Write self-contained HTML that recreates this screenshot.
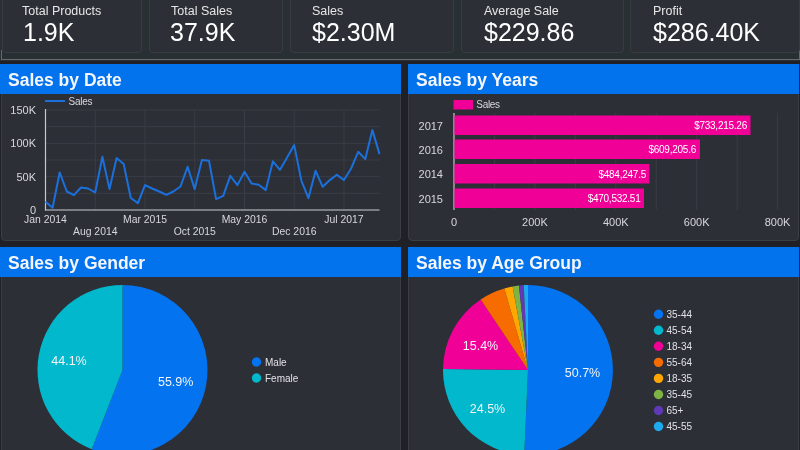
<!DOCTYPE html>
<html><head><meta charset="utf-8">
<style>
*{margin:0;padding:0;box-sizing:border-box}
html,body{width:800px;height:450px;overflow:hidden;background:#1f2126;font-family:"Liberation Sans",sans-serif;color:#fff}
.abs{position:absolute}
#root{position:absolute;left:0;top:0;width:800px;height:450px;will-change:transform}
#kpiwrap{position:absolute;left:0;top:-4px;width:800px;height:64px;background:#283034}
.kl{position:absolute;background:#656a6c}
.card{position:absolute;top:-4px;height:57px;background:#2d2f37;border:1px solid #393b43;border-radius:4px}
.lbl{position:absolute;left:19px;top:7px;font-size:12.5px;color:#e6e6e6;white-space:nowrap}
.val{position:absolute;left:19px;top:20px;font-size:25px;color:#fff;white-space:nowrap}
.panel{position:absolute;background:#2d2f37;border:1px solid #3a3d44;border-radius:4px}
.hdr{position:absolute;background:#0272ed;height:30px}
.ttl{position:absolute;font-weight:bold;font-size:17.5px;color:#f4f6fa;white-space:nowrap}
svg text{font-family:"Liberation Sans",sans-serif}
</style></head><body><div id="root">
<div id="kpiwrap"></div><div class="kl" style="left:1px;top:50px;width:1px;height:10px"></div><div class="kl" style="left:799px;top:50px;width:1px;height:10px"></div><div class="kl" style="left:1px;top:59px;width:799px;height:1px"></div><div class="abs" style="left:0;top:60px;width:800px;height:1px;background:#2a2d31"></div>
<div class="card" style="left:2px;width:140px"><div class="lbl" style="left:19px;top:7px">Total Products</div><div class="val" style="left:20px;top:21px">1.9K</div></div>
<div class="card" style="left:149px;width:134px"><div class="lbl" style="left:21px;top:7px">Total Sales</div><div class="val" style="left:20px;top:21px">37.9K</div></div>
<div class="card" style="left:290px;width:164px"><div class="lbl" style="left:21px;top:7px">Sales</div><div class="val" style="left:21px;top:21px">$2.30M</div></div>
<div class="card" style="left:461px;width:163px"><div class="lbl" style="left:22px;top:7px">Average Sale</div><div class="val" style="left:22px;top:21px">$229.86</div></div>
<div class="card" style="left:630px;width:170px"><div class="lbl" style="left:22px;top:7px">Profit</div><div class="val" style="left:22px;top:21px">$286.40K</div></div>

<!-- panels -->
<div class="panel" style="left:1px;top:64px;width:400px;height:177px"></div>
<div class="panel" style="left:408px;top:64px;width:391px;height:177px"></div>
<div class="panel" style="left:1px;top:247px;width:400px;height:210px"></div>
<div class="panel" style="left:408px;top:247px;width:391px;height:210px"></div>

<div class="hdr" style="left:0;top:64px;width:401px"></div>
<div class="hdr" style="left:408px;top:64px;width:391px"></div>
<div class="hdr" style="left:0;top:247px;width:401px"></div>
<div class="hdr" style="left:408px;top:247px;width:391px"></div>
<div class="ttl" style="left:8px;top:70px">Sales by Date</div>
<div class="ttl" style="left:416px;top:70px">Sales by Years</div>
<div class="ttl" style="left:8px;top:253px">Sales by Gender</div>
<div class="ttl" style="left:416px;top:253px">Sales by Age Group</div>

<svg class="abs" style="left:0;top:0" width="800" height="450" viewBox="0 0 800 450">
<g stroke="#3a3d45" stroke-width="1" fill="none"><line x1="45.5" y1="110.00" x2="379.5" y2="110.00"/><line x1="45.5" y1="126.67" x2="379.5" y2="126.67"/><line x1="45.5" y1="143.33" x2="379.5" y2="143.33"/><line x1="45.5" y1="160.00" x2="379.5" y2="160.00"/><line x1="45.5" y1="176.67" x2="379.5" y2="176.67"/><line x1="45.5" y1="193.34" x2="379.5" y2="193.34"/><line x1="45.5" y1="210.00" x2="379.5" y2="210.00"/><line x1="95.25" y1="110" x2="95.25" y2="210"/><line x1="145.00" y1="110" x2="145.00" y2="210"/><line x1="194.75" y1="110" x2="194.75" y2="210"/><line x1="244.50" y1="110" x2="244.50" y2="210"/><line x1="294.25" y1="110" x2="294.25" y2="210"/><line x1="344.00" y1="110" x2="344.00" y2="210"/><line x1="494.45" y1="113" x2="494.45" y2="210"/><line x1="534.90" y1="113" x2="534.90" y2="210"/><line x1="575.35" y1="113" x2="575.35" y2="210"/><line x1="615.80" y1="113" x2="615.80" y2="210"/><line x1="656.25" y1="113" x2="656.25" y2="210"/><line x1="696.70" y1="113" x2="696.70" y2="210"/><line x1="737.15" y1="113" x2="737.15" y2="210"/><line x1="777.60" y1="113" x2="777.60" y2="210"/></g>
<g stroke="#c4c7cc" stroke-width="1.2"><line x1="45.5" y1="109" x2="45.5" y2="210.5"/><line x1="45" y1="210" x2="379.5" y2="210"/><line x1="454" y1="113" x2="454" y2="210"/></g>
<polyline points="45.5,201.8 52.6,207.8 59.7,172.5 66.8,191.5 73.9,195.1 81.0,187.5 88.1,188.5 95.2,192.5 102.4,156.8 109.5,189.1 116.6,158.1 123.7,164.1 130.8,198.0 137.9,203.1 145.0,185.1 152.1,188.5 159.2,191.5 166.3,194.8 173.4,191.5 180.5,186.5 187.6,166.8 194.7,189.1 201.9,160.1 209.0,160.8 216.1,199.1 223.2,195.8 230.3,175.8 237.4,185.1 244.5,171.8 251.6,183.5 258.7,184.8 265.8,190.1 272.9,161.3 280.0,169.8 287.1,157.5 294.2,145.1 301.4,180.8 308.5,198.1 315.6,170.8 322.7,186.8 329.8,180.1 336.9,174.8 344.0,180.1 351.1,168.5 358.2,151.8 365.3,159.1 372.4,130.1 379.5,154.1" fill="none" stroke="#1a70dc" stroke-width="2" stroke-linejoin="round"/>
<line x1="45" y1="101" x2="65" y2="101" stroke="#1a70dc" stroke-width="2"/>
<g font-size="11" fill="#d6d8dc" text-anchor="end">
<text x="36" y="114">150K</text><text x="36" y="147.3">100K</text><text x="36" y="180.7">50K</text><text x="36" y="214">0</text>
</g>
<g font-size="10.4" fill="#d6d8dc" text-anchor="middle">
<text x="45.5" y="222.5">Jan 2014</text><text x="95.25" y="235">Aug 2014</text><text x="145" y="222.5">Mar 2015</text><text x="194.75" y="235">Oct 2015</text><text x="244.5" y="222.5">May 2016</text><text x="294.25" y="235">Dec 2016</text><text x="344" y="222.5">Jul 2017</text>
</g>
<text x="68.6" y="104.6" font-size="10" letter-spacing="-0.3" fill="#d6d8dc">Sales</text>
<!-- bars -->
<rect x="453.5" y="100" width="19.5" height="9.5" fill="#f10097"/>
<text x="476.3" y="108" font-size="10" letter-spacing="-0.3" fill="#d6d8dc">Sales</text>
<g fill="#f10097">
<rect x="454.5" y="115.5" width="296" height="19.5"/>
<rect x="454.5" y="139.5" width="245.5" height="19.5"/>
<rect x="454.5" y="164" width="195" height="19.5"/>
<rect x="454.5" y="188.5" width="189.5" height="19.5"/>
</g>
<g font-size="10" fill="#ffffff" text-anchor="end" letter-spacing="-0.25">
<text x="747" y="129">$733,215.26</text><text x="696" y="153">$609,205.6</text><text x="646" y="177.5">$484,247.5</text><text x="640.5" y="202">$470,532.51</text>
</g>
<g font-size="11" fill="#d6d8dc" text-anchor="end">
<text x="443" y="129.5">2017</text><text x="443" y="153.5">2016</text><text x="443" y="178">2014</text><text x="443" y="202.5">2015</text>
</g>
<g font-size="11" fill="#d6d8dc" text-anchor="middle">
<text x="454" y="226">0</text><text x="534.9" y="226">200K</text><text x="615.8" y="226">400K</text><text x="696.7" y="226">600K</text><text x="777.6" y="226">800K</text>
</g>
<!-- pies -->
<path d="M122.50 370.00L122.50 285.00A85.00 85.00 0 1 1 91.71 449.23Z" fill="#0473ef"/>
<path d="M122.50 370.00L91.71 449.23A85.00 85.00 0 0 1 122.50 285.00Z" fill="#02b8cc"/>
<path d="M528.00 370.00L528.00 285.00A85.00 85.00 0 1 1 524.26 454.92Z" fill="#0473ef"/>
<path d="M528.00 370.00L524.26 454.92A85.00 85.00 0 0 1 443.01 368.93Z" fill="#02b8cc"/>
<path d="M528.00 370.00L443.01 368.93A85.00 85.00 0 0 1 480.67 299.40Z" fill="#f10097"/>
<path d="M528.00 370.00L480.67 299.40A85.00 85.00 0 0 1 504.29 288.38Z" fill="#f66c00"/>
<path d="M528.00 370.00L504.29 288.38A85.00 85.00 0 0 1 512.60 286.41Z" fill="#ffa700"/>
<path d="M528.00 370.00L512.60 286.41A85.00 85.00 0 0 1 518.94 285.48Z" fill="#7db443"/>
<path d="M528.00 370.00L518.94 285.48A85.00 85.00 0 0 1 523.73 285.11Z" fill="#5e3ab5"/>
<path d="M528.00 370.00L523.73 285.11A85.00 85.00 0 0 1 528.00 285.00Z" fill="#1faaf0"/>

<g font-size="12.5" fill="#f2f4f6" text-anchor="middle">
<text x="69" y="365">44.1%</text><text x="175.7" y="385.5">55.9%</text>
<text x="480.5" y="350">15.4%</text><text x="487.5" y="413.3">24.5%</text><text x="582.5" y="377">50.7%</text>
</g>
<g font-size="10" fill="#e0e2e6">
<circle cx="256.5" cy="362" r="4.7" fill="#0473ef"/><text x="265" y="365.5">Male</text>
<circle cx="256.5" cy="378" r="4.7" fill="#02b8cc"/><text x="265" y="381.5">Female</text>
</g>
<g font-size="10" fill="#e0e2e6">
<circle cx="658.5" cy="314.20" r="4.7" fill="#0473ef"/><text x="666.5" y="317.70">35-44</text>
<circle cx="658.5" cy="330.25" r="4.7" fill="#02b8cc"/><text x="666.5" y="333.75">45-54</text>
<circle cx="658.5" cy="346.30" r="4.7" fill="#f10097"/><text x="666.5" y="349.80">18-34</text>
<circle cx="658.5" cy="362.35" r="4.7" fill="#f66c00"/><text x="666.5" y="365.85">55-64</text>
<circle cx="658.5" cy="378.40" r="4.7" fill="#ffa700"/><text x="666.5" y="381.90">18-35</text>
<circle cx="658.5" cy="394.45" r="4.7" fill="#7db443"/><text x="666.5" y="397.95">35-45</text>
<circle cx="658.5" cy="410.50" r="4.7" fill="#5e3ab5"/><text x="666.5" y="414.00">65+</text>
<circle cx="658.5" cy="426.55" r="4.7" fill="#1faaf0"/><text x="666.5" y="430.05">45-55</text>
</g>
</svg>
</div></body></html>
